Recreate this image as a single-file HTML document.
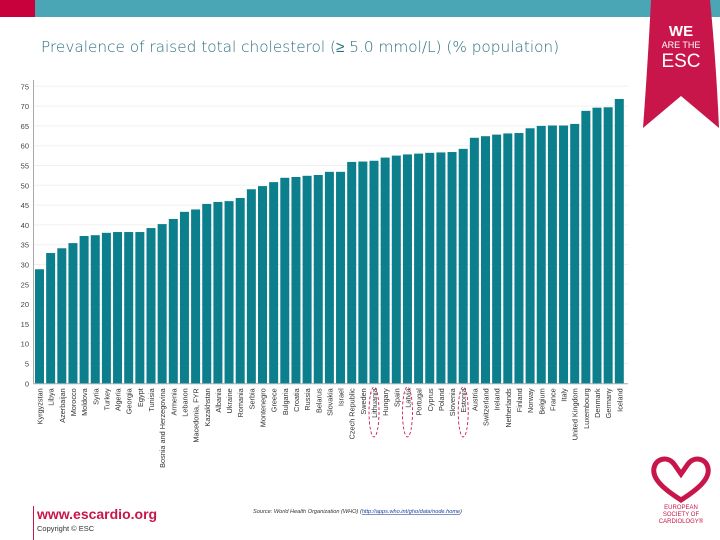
<!DOCTYPE html>
<html><head><meta charset="utf-8"><style>
body{margin:0;width:720px;height:540px;overflow:hidden;background:#fff;font-family:"Liberation Sans",sans-serif;position:relative}
.abs{position:absolute}
</style></head><body>
<div class="abs" style="left:0;top:0;width:35px;height:17px;background:#c8003c"></div>
<div class="abs" style="left:35px;top:0;width:685px;height:17px;background:#4aa6b5"></div>
<div class="abs" style="left:41px;top:38px;font-size:15.3px;color:#2a6f7f;font-family:'DejaVu Sans',sans-serif;font-weight:300;white-space:nowrap">Prevalence of raised total cholesterol (≥ 5.0 mmol/L) (% population)</div>
<svg class="abs" style="left:0;top:0" width="720" height="540">
<g id="ribbon">
<path d="M651 0 L710 0 Q716 60 719 128 L681 96 L643 128 Q648 60 651 0 Z" fill="#c8164a"/>
<text x="681" y="36" fill="#fff" font-size="15" text-anchor="middle" font-family="Liberation Sans" font-weight="bold">WE</text>
<text x="681" y="48" fill="#fff" font-size="9" text-anchor="middle" font-family="Liberation Sans">ARE THE</text>
<text x="681" y="67" fill="#fff" font-size="19" text-anchor="middle" font-family="Liberation Sans">ESC</text>
</g>
<g id="plot"></g>
<g>
<path d="M681 500 C662 488 652 478 654 468 C656 458 668 456 674 464 L681 474 L688 464 C694 456 706 458 708 468 C710 478 700 488 681 500 Z" fill="none" stroke="#c8164a" stroke-width="5"/>
<text x="681" y="509" fill="#c8164a" font-size="6" text-anchor="middle">EUROPEAN</text>
<text x="681" y="516" fill="#c8164a" font-size="6" text-anchor="middle">SOCIETY OF</text>
<text x="681" y="523" fill="#c8164a" font-size="6" text-anchor="middle">CARDIOLOGY®</text>
</g>
<line x1="33.5" y1="506" x2="33.5" y2="540" stroke="#c8164a" stroke-width="1"/>
<text x="37" y="519" fill="#c8164a" font-size="14" font-weight="bold">www.escardio.org</text>
<text x="37" y="531" fill="#333" font-size="7.5">Copyright © ESC</text>
<text x="253" y="513" fill="#333" font-size="5.6" font-style="italic">Source: World Health Organization (WHO) (<tspan fill="#1a3fa0" text-decoration="underline">http://apps.who.int/gho/data/node.home</tspan>)</text>
</svg>
<script>
const categories=["Kyrgyzstan","Libya","Azerbaijan","Morocco","Moldova","Syria","Turkey","Algeria","Georgia","Egypt","Tunisia","Bosnia and Herzegovina","Armenia","Lebanon","Macedonia, FYR","Kazakhstan","Albania","Ukraine","Romania","Serbia","Montenegro","Greece","Bulgaria","Croatia","Russia","Belarus","Slovakia","Israel","Czech Republic","Sweden","Lithuania","Hungary","Spain","Latvia","Portugal","Cyprus","Poland","Slovenia","Estonia","Austria","Switzerland","Ireland","Netherlands","Finland","Norway","Belgium","France","Italy","United Kingdom","Luxembourg","Denmark","Germany","Iceland"];
const values=[28.8,32.9,34.1,35.4,37.2,37.4,38.0,38.2,38.2,38.2,39.2,40.2,41.5,43.3,43.9,45.3,45.8,46.0,46.8,49.0,49.8,50.8,51.9,52.1,52.4,52.6,53.4,53.4,55.9,56.0,56.2,57.0,57.5,57.8,58.0,58.2,58.3,58.4,59.2,62.0,62.4,62.8,63.1,63.2,64.4,65.0,65.1,65.1,65.5,68.8,69.6,69.7,71.8];
const yTicks=[0,5,10,15,20,25,30,35,40,45,50,55,60,65,70,75];
const ns="http://www.w3.org/2000/svg";
const g=document.getElementById('plot');
const x0=35,pitch=11.15,bw=9,base=383.3,k=3.96;
const y=v=>base-v*k;
const xf=i=>x0+i*pitch;
function mk(t,a){const e=document.createElementNS(ns,t);for(const n in a)e.setAttribute(n,a[n]);g.appendChild(e);return e;}
yTicks.forEach(t=>{
  if(t>0){const l=mk('line',{x1:33,x2:628,y1:y(t),y2:y(t),stroke:'#f0f0f0','stroke-width':1});
  
  }
  const tx=mk('text',{x:29,y:y(t)+3,'font-size':7.5,'text-anchor':'end',fill:'#444'});tx.textContent=t;
  
  
});
const ax=mk('line',{x1:33.5,x2:33.5,y1:80,y2:base,stroke:'#aaa'});


const bx=mk('line',{x1:33,x2:628,y1:base+0.5,y2:base+0.5,stroke:'#aaa'});


values.forEach((v,i)=>{
  const r=mk('rect',{x:xf(i),y:y(v),width:bw,height:v*k,fill:'#0b7f8c'});
  
  
  const cx=xf(i)+bw/2+3;
  const t=mk('text',{x:0,y:0,'font-size':7.3,'text-anchor':'end',fill:'#333',transform:`translate(${cx},${base+5}) rotate(-90)`});
  t.textContent=categories[i];
  
  
});
["Lithuania","Latvia","Estonia"].forEach(c=>{
  const i=categories.indexOf(c);
  const e=mk('ellipse',{cx:xf(i)+bw/2,cy:412,rx:5,ry:25,fill:'none',stroke:'#c8003c','stroke-dasharray':'3,2','stroke-width':0.8});
  
  
});
</script>
</body></html>
